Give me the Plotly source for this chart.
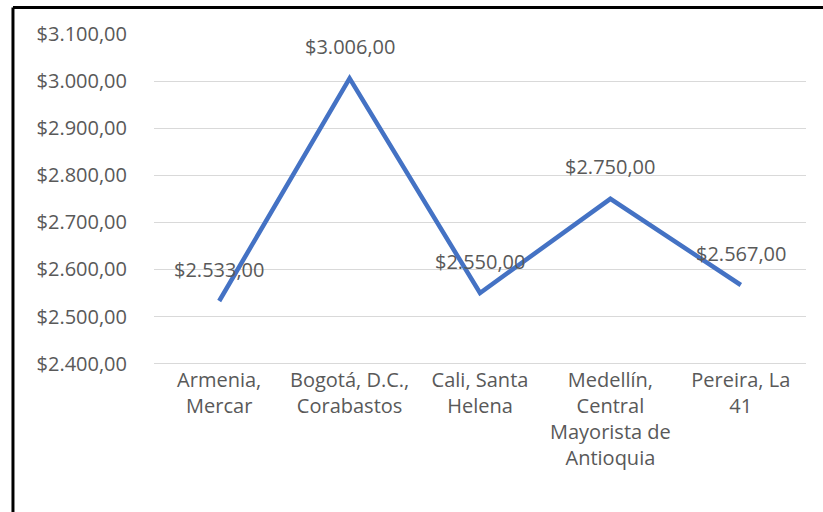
import plotly.graph_objects as go

# mercados y precios
mercados = [
    "Armenia,<br>Mercar",
    "Bogotá, D.C.,<br>Corabastos",
    "Cali, Santa<br>Helena",
    "Medellín,<br>Central<br>Mayorista de<br>Antioquia",
    "Pereira, La<br>41",
]
precios = [2533, 3006, 2550, 2750, 2567]
ticks_y = [2400, 2500, 2600, 2700, 2800, 2900, 3000, 3100]

GRIS = "#595959"
AZUL = "#4472C4"
FUENTE = "Open Sans"
TAM = 20

fig = go.Figure()
fig.add_trace(go.Scatter(
    x=mercados, y=precios, mode="lines",
    line=dict(color=AZUL, width=4.5),
    hoverinfo="skip",
))

# etiquetas de datos encima de cada punto
for m, p in zip(mercados, precios):
    fig.add_annotation(
        x=m, y=p, text="$" + f"{p:,.2f}".replace(",", "X").replace(".", ",").replace("X", "."),
        showarrow=False, yshift=32,
        font=dict(family=FUENTE, size=TAM, color=GRIS),
    )

# borde negro del recuadro (izquierda y arriba)
fig.add_shape(type="line", xref="paper", yref="paper",
              x0=-0.2163, x1=-0.2163, y0=-1, y1=1.08,
              line=dict(color="black", width=3))
fig.add_shape(type="line", xref="paper", yref="paper",
              x0=-0.2163, x1=1.1, y0=1.08, y1=1.08,
              line=dict(color="black", width=3))

fig.update_layout(
    width=823, height=512,
    margin=dict(l=154, r=17, t=34, b=146),
    paper_bgcolor="white", plot_bgcolor="white",
    showlegend=False,
    separators=",.",
    font=dict(family=FUENTE, size=TAM, color=GRIS),
)
fig.update_xaxes(
    showgrid=False, showline=False, zeroline=False,
    ticks="", tickfont=dict(size=TAM, color=GRIS),
    range=[-0.5, 4.5],
)
fig.update_yaxes(
    range=[2395, 3100], tickvals=ticks_y, tickformat="$,.2f",
    showgrid=True, gridcolor="#D9D9D9", gridwidth=1.3,
    zeroline=False, showline=False, ticks="",
    ticklabelstandoff=26,
    tickfont=dict(size=TAM, color=GRIS),
)

fig.write_html("out.html", config={"displayModeBar": False},
               post_script="document.body.style.margin='0';")
